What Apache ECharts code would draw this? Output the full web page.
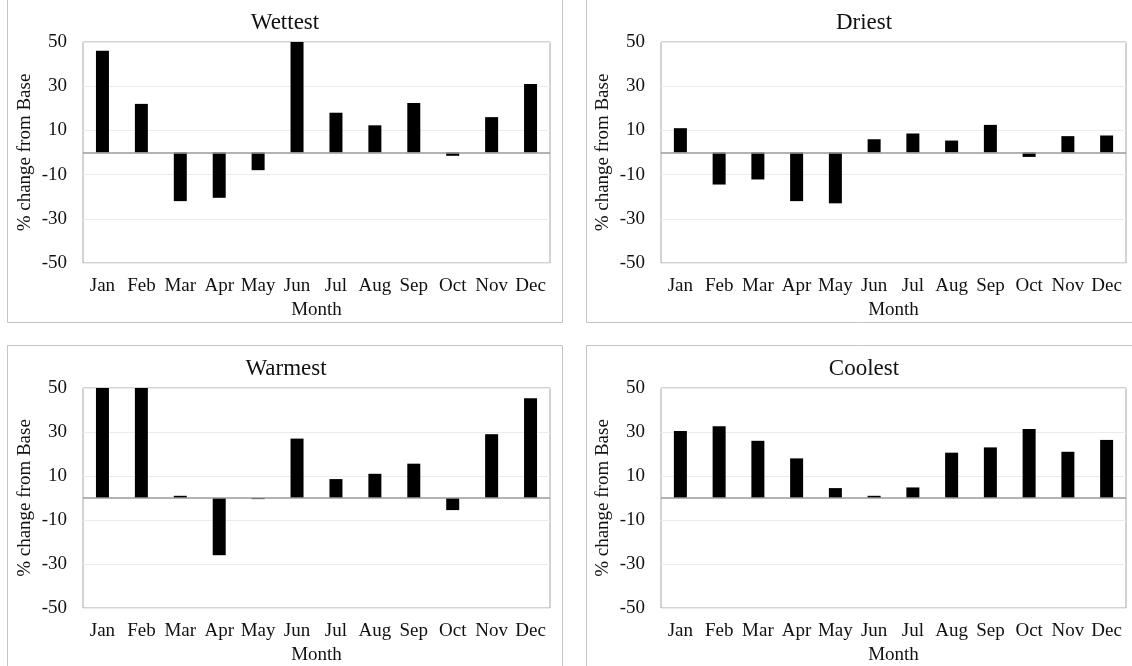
<!DOCTYPE html>
<html>
<head>
<meta charset="utf-8">
<script src="https://cdn.jsdelivr.net/npm/echarts@6/dist/echarts.min.js"></script>
<style>
html,body{margin:0;padding:0;background:#fff;}
#chart{width:1132px;height:666px;}
</style>
</head>
<body>
<div id="chart"></div>
<script>
const months = ['Jan','Feb','Mar','Apr','May','Jun','Jul','Aug','Sep','Oct','Nov','Dec'];
const yTickLabels = ['-50','-30','-10','10','30','50'];
const panelTitles = ['Wettest','Driest','Warmest','Coolest'];
const wettest = [46, 22, -22, -20.5, -8, 50, 18, 12.3, 22.4, -1.5, 16, 31];
const driest  = [11, -14.5, -12.2, -22, -23, 6, 8.6, 5.4, 12.5, -2, 7.4, 7.7];
const warmest = [50, 50, 1, -26, -0.5, 27, 8.6, 11, 15.6, -5.5, 29, 45.3];
const coolest = [30.5, 32.6, 26, 18, 4.5, 1, 4.8, 20.6, 23, 31.4, 21, 26.4];
const yAxisTitle = '% change from Base';
const xAxisTitle = 'Month';

const seriesData = [wettest, driest, warmest, coolest];
const FONT = '"Liberation Serif", "Times New Roman", serif';
const TXT = '#111';

const grids = [
  {left: 83, top: 42, width: 467, height: 221},
  {left: 661, top: 42, width: 465, height: 221},
  {left: 83, top: 388, width: 467, height: 220},
  {left: 661, top: 388, width: 465, height: 220}
];
const titlePos = [[285, 23], [864, 23], [286, 369], [864, 369]];
const frames = [
  {x: 7.5, y: -5, width: 555, height: 327.5},
  {x: 586.5, y: -5, width: 560, height: 327.5},
  {x: 7.5, y: 345.5, width: 555, height: 340},
  {x: 586.5, y: 345.5, width: 560, height: 340}
];

const option = {
  backgroundColor: '#fff',
  animation: false,
  grid: grids.map(g => Object.assign({show: true, borderColor: '#a6a6a6', borderWidth: 1, backgroundColor: 'transparent', outerBoundsMode: 'none'}, g)),
  xAxis: [],
  yAxis: [],
  series: [],
  graphic: []
};

frames.forEach(f => {
  option.graphic.push({type: 'rect', shape: f, style: {fill: 'none', stroke: '#c4c4c4', lineWidth: 1}, silent: true, z: -1});
});
panelTitles.forEach((t, i) => {
  option.graphic.push({type: 'text', x: titlePos[i][0], y: titlePos[i][1], style: {text: t, textAlign: 'center', textVerticalAlign: 'middle', fontFamily: FONT, fontSize: 23, fill: TXT}, silent: true});
});

for (let i = 0; i < 4; i++) {
  option.xAxis.push({
    type: 'category', gridIndex: i, data: months, position: 'bottom',
    axisLine: {show: false}, axisTick: {show: false},
    axisLabel: {interval: 0, margin: 14, fontFamily: FONT, fontSize: 19, color: TXT},
    name: xAxisTitle, nameLocation: 'middle', nameGap: 38,
    nameTextStyle: {fontFamily: FONT, fontSize: 19, color: TXT},
    splitLine: {show: false}
  });
  // data axis
  option.yAxis.push({
    type: 'value', gridIndex: i, min: -50, max: 50, show: false, position: 'right'
  });
  // label axis (shows -50..50 in steps of 20)
  option.yAxis.push({
    type: 'value', gridIndex: i, min: 0, max: 100, interval: 20, position: 'left',
    axisLine: {show: false}, axisTick: {show: false},
    axisLabel: {margin: 16, fontFamily: FONT, fontSize: 19, color: TXT,
      formatter: (v) => yTickLabels[Math.round(v / 20)]},
    splitLine: {show: true, lineStyle: {color: '#ebebeb', width: 1}},
    name: yAxisTitle, nameLocation: 'middle', nameGap: 48,
    nameTextStyle: {fontFamily: FONT, fontSize: 19, color: TXT}
  });
  option.series.push({
    type: 'bar', xAxisIndex: i, yAxisIndex: i * 2,
    data: seriesData[i], barWidth: 13,
    itemStyle: {color: '#000'},
    silent: true,
    markLine: {
      silent: true, symbol: 'none', label: {show: false},
      lineStyle: {color: '#9a9a9a', width: 1.5, type: 'solid'},
      data: [{yAxis: 0}]
    }
  });
}

const chart = echarts.init(document.getElementById('chart'), null, {renderer: 'canvas'});
chart.setOption(option);
</script>
</body>
</html>
